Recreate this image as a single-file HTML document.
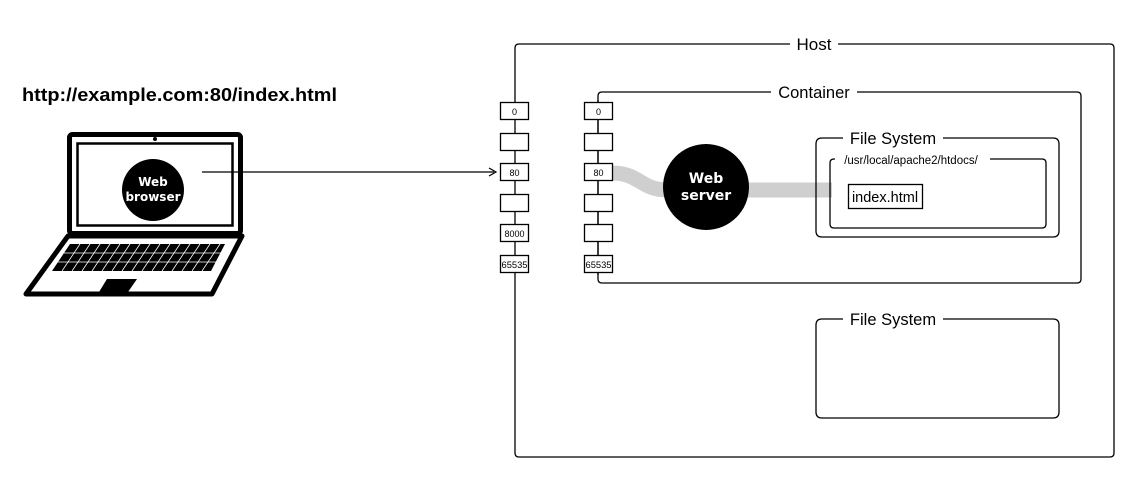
<!DOCTYPE html>
<html><head><meta charset="utf-8"><style>
html,body{margin:0;padding:0;background:#fff;}
svg{display:block;font-family:"Liberation Sans",Arial,sans-serif;}
</style></head><body>
<svg width="1132" height="477" viewBox="0 0 1132 477" xmlns="http://www.w3.org/2000/svg">
<rect width="1132" height="477" fill="#fff"/>
<text x="22" y="101" font-size="18" font-weight="bold" textLength="315" lengthAdjust="spacingAndGlyphs">http://example.com:80/index.html</text>

<!-- laptop -->
<rect x="69.5" y="134.5" width="171" height="99" rx="3" fill="none" stroke="#000" stroke-width="5"/>
<rect x="77.5" y="143.5" width="155" height="82" fill="none" stroke="#000" stroke-width="2.5"/>
<circle cx="155" cy="139" r="2" fill="#000"/>
<path d="M68 236 L242 236 L212 294 L26 294 Z" fill="none" stroke="#000" stroke-width="5" stroke-linejoin="round"/>
<path d="M70 244 L225 244 L211 271 L52 271 Z" fill="#000"/>
<g stroke="#fff" stroke-width="0.8">
<line x1="62" y1="253" x2="221" y2="253"/><line x1="57" y1="262" x2="216" y2="262"/>
<path d="M80 244l-18 27M90 244l-18 27M100 244l-18 27M110 244l-18 27M120 244l-18 27M130 244l-18 27M140 244l-18 27M150 244l-18 27M160 244l-18 27M170 244l-18 27M180 244l-18 27M190 244l-18 27M200 244l-18 27M210 244l-18 27M220 244l-18 27"/>
</g>
<path d="M107 279 L137 279 L128 292 L99 292 Z" fill="#000"/>
<circle cx="153" cy="190" r="31" fill="#000"/>
<text x="153" y="186" font-size="12" font-weight="bold" fill="#fff" text-anchor="middle" font-family="DejaVu Sans,sans-serif">Web</text>
<text x="153" y="201" font-size="12" font-weight="bold" fill="#fff" text-anchor="middle" font-family="DejaVu Sans,sans-serif">browser</text>
<line x1="202" y1="172" x2="494" y2="172" stroke="#000" stroke-width="1.2"/>
<path d="M489 168 L496 172 L489 176" fill="none" stroke="#000" stroke-width="1.2"/>

<!-- Host -->
<path d="M790 44 L519 44 Q515 44 515 48 L515 453 Q515 457 519 457 L1110 457 Q1114 457 1114 453 L1114 48 Q1114 44 1110 44 L838 44" fill="none" stroke="#000" stroke-width="1.3"/>
<text x="814" y="50" font-size="17" text-anchor="middle">Host</text>

<!-- Container -->
<path d="M771 92 L602 92 Q598 92 598 96 L598 279 Q598 283 602 283 L1077 283 Q1081 283 1081 279 L1081 96 Q1081 92 1077 92 L857 92" fill="none" stroke="#000" stroke-width="1.3"/>
<text x="814" y="98" font-size="16.5" text-anchor="middle">Container</text>

<!-- gray band -->
<path d="M612 173 C640 173 640 190 668 190 L832 190" fill="none" stroke="#cfcfcf" stroke-width="15"/>

<!-- FS1 -->
<path d="M843 138 L822 138 Q816 138 816 144 L816 231 Q816 237 822 237 L1053 237 Q1059 237 1059 231 L1059 144 Q1059 138 1053 138 L943 138" fill="none" stroke="#000" stroke-width="1.3"/>
<text x="893" y="144" font-size="16.5" text-anchor="middle">File System</text>
<path d="M835 159 L834 159 Q830 159 830 163 L830 224 Q830 228 834 228 L1042 228 Q1046 228 1046 224 L1046 163 Q1046 159 1042 159 L990 159" fill="none" stroke="#000" stroke-width="1.3"/>
<text x="911" y="164" font-size="11.5" text-anchor="middle">/usr/local/apache2/htdocs/</text>
<rect x="848.5" y="184.5" width="74" height="24" fill="#fff" stroke="#000" stroke-width="1.3"/>
<text x="885" y="202" font-size="14.5" text-anchor="middle">index.html</text>

<!-- FS2 -->
<path d="M843 319 L822 319 Q816 319 816 325 L816 412 Q816 418 822 418 L1053 418 Q1059 418 1059 412 L1059 325 Q1059 319 1053 319 L943 319" fill="none" stroke="#000" stroke-width="1.3"/>
<text x="893" y="325" font-size="16.5" text-anchor="middle">File System</text>

<!-- web server -->
<circle cx="706" cy="187" r="43" fill="#000"/>
<text x="706" y="183" font-size="14" font-weight="bold" fill="#fff" text-anchor="middle" font-family="DejaVu Sans,sans-serif">Web</text>
<text x="706" y="200" font-size="14" font-weight="bold" fill="#fff" text-anchor="middle" font-family="DejaVu Sans,sans-serif">server</text>

<!-- port columns -->
<line x1="598" y1="100" x2="598" y2="275" stroke="#000" stroke-width="1.3"/>
<g stroke="#000" stroke-width="1.3" fill="#fff">
<rect x="500.5" y="102.5" width="28" height="17"/>
<rect x="500.5" y="133.5" width="28" height="17"/>
<rect x="500.5" y="163.5" width="28" height="17"/>
<rect x="500.5" y="194.5" width="28" height="17"/>
<rect x="500.5" y="224.5" width="28" height="17"/>
<rect x="500.5" y="255.5" width="28" height="17"/>
<rect x="584.5" y="102.5" width="28" height="17"/>
<rect x="584.5" y="133.5" width="28" height="17"/>
<rect x="584.5" y="163.5" width="28" height="17"/>
<rect x="584.5" y="194.5" width="28" height="17"/>
<rect x="584.5" y="224.5" width="28" height="17"/>
<rect x="584.5" y="255.5" width="28" height="17"/>
</g>
<g font-size="9" text-anchor="middle">
<text x="514.5" y="115">0</text>
<text x="514.5" y="176">80</text>
<text x="514.5" y="237">8000</text>
<text x="514.5" y="268" textLength="26" lengthAdjust="spacingAndGlyphs">65535</text>
<text x="598.5" y="115">0</text>
<text x="598.5" y="176">80</text>
<text x="598.5" y="268" textLength="26" lengthAdjust="spacingAndGlyphs">65535</text>
</g>
</svg>
</body></html>
